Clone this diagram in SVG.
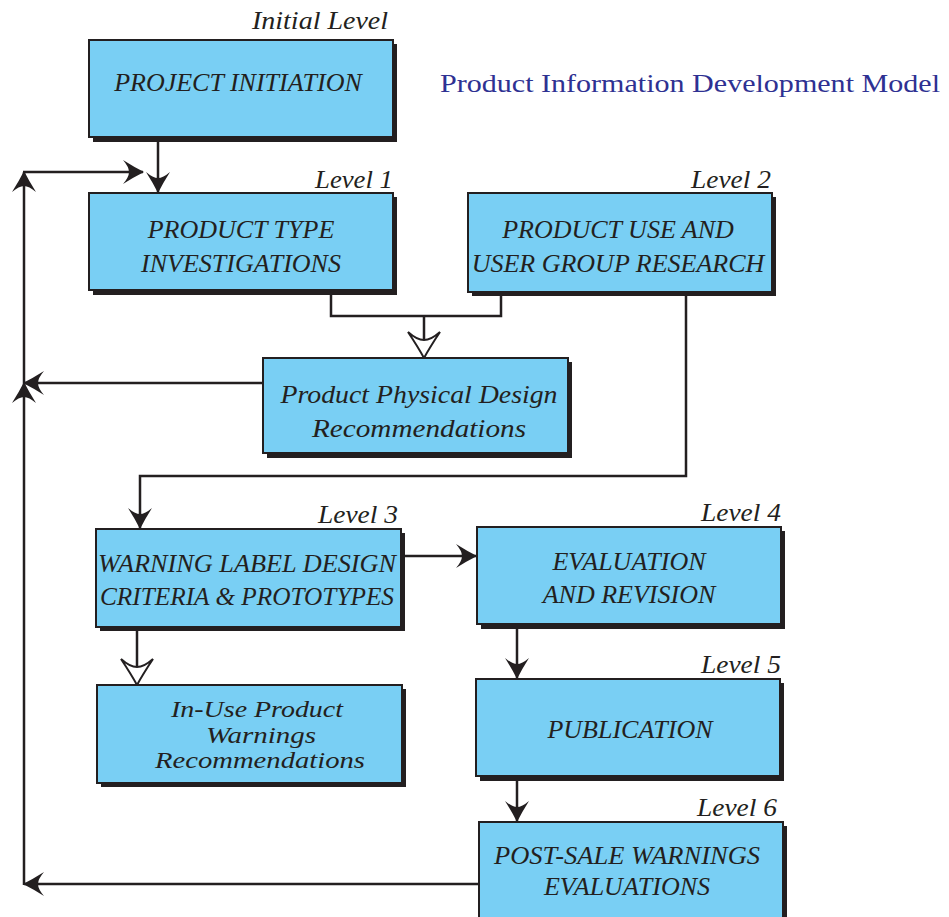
<svg xmlns="http://www.w3.org/2000/svg" width="949" height="917" viewBox="0 0 949 917">
<defs>
<style>
.sh{fill:#231f20}
.bx{fill:#79cff4;stroke:#231f20;stroke-width:2}
.t{font-family:"Liberation Serif","Times New Roman",serif;font-style:italic;font-size:26px;fill:#231f20;text-anchor:middle}
.s{font-size:24px}
.lv{font-family:"Liberation Serif","Times New Roman",serif;font-style:italic;font-size:26px;fill:#231f20;text-anchor:end}
.ttl{font-family:"Liberation Serif","Times New Roman",serif;font-size:26px;fill:#2e3192}
.c{fill:none;stroke:#231f20;stroke-width:2.5}
</style>
<marker id="af" markerUnits="userSpaceOnUse" viewBox="-22 -13 24 26" refX="0" refY="0" markerWidth="24" markerHeight="26" orient="auto" overflow="visible">
<path d="M1,0 Q-9,-5 -20,-12 Q-14,-5 -14,0 Q-14,5 -20,12 Q-9,5 1,0 Z" fill="#231f20"/>
</marker>
<marker id="ah" markerUnits="userSpaceOnUse" viewBox="-28 -18 30 36" refX="0" refY="0" markerWidth="30" markerHeight="36" orient="auto" overflow="visible">
<path d="M0,0 Q-11,-6 -26,-16 Q-18,-7 -18,0 Q-18,7 -26,16 Q-11,6 0,0 Z" fill="#fff" stroke="#231f20" stroke-width="2"/>
</marker>
</defs>
<rect width="949" height="917" fill="#fff"/>

<g id="connectors">
<line class="c" x1="158" y1="138" x2="158" y2="192" marker-end="url(#af)"/>
<polyline class="c" points="331,291 331,316 501,316 501,293"/>
<line class="c" x1="424" y1="316" x2="424" y2="358" marker-end="url(#ah)"/>
<polyline class="c" points="686,293 686,476 140,476 140,528" marker-end="url(#af)"/>
<line class="c" x1="402" y1="556" x2="476" y2="556" marker-end="url(#af)"/>
<line class="c" x1="137" y1="628" x2="137" y2="685" marker-end="url(#ah)"/>
<line class="c" x1="517" y1="625" x2="517" y2="678" marker-end="url(#af)"/>
<line class="c" x1="517" y1="777" x2="517" y2="821" marker-end="url(#af)"/>
<line class="c" x1="478" y1="884" x2="24" y2="884" marker-end="url(#af)"/>
<line class="c" x1="24" y1="885" x2="24" y2="383" marker-end="url(#af)"/>
<line class="c" x1="24" y1="383" x2="24" y2="172" marker-end="url(#af)"/>
<line class="c" x1="23" y1="172" x2="143" y2="172" marker-end="url(#af)"/>
<line class="c" x1="263" y1="383" x2="24" y2="383" marker-end="url(#af)"/>
</g>

<g id="title">
<text class="ttl" x="440" y="92" textLength="500" lengthAdjust="spacingAndGlyphs">Product Information Development Model</text>
</g>

<g id="n0">
<text class="lv" x="388" y="29" textLength="136" lengthAdjust="spacingAndGlyphs">Initial Level</text>
<rect class="sh" x="93" y="44" width="304" height="98"/>
<rect class="bx" x="89" y="40" width="304" height="97"/>
<text class="t" x="238" y="91">PROJECT INITIATION</text>
</g>

<g id="n1">
<text class="lv" x="393" y="188" textLength="78" lengthAdjust="spacingAndGlyphs">Level 1</text>
<rect class="sh" x="93" y="197" width="304" height="98"/>
<rect class="bx" x="89" y="193" width="304" height="97"/>
<text class="t" x="241" y="238">PRODUCT TYPE</text>
<text class="t" x="241" y="272">INVESTIGATIONS</text>
</g>

<g id="n2">
<text class="lv" x="771" y="188" textLength="80" lengthAdjust="spacingAndGlyphs">Level 2</text>
<rect class="sh" x="472" y="197" width="304" height="99"/>
<rect class="bx" x="468" y="193" width="304" height="99"/>
<text class="t" x="618" y="238">PRODUCT USE AND</text>
<text class="t" x="618" y="272">USER GROUP RESEARCH</text>
</g>

<g id="n3">
<rect class="sh" x="267" y="362" width="305" height="96"/>
<rect class="bx" x="263" y="358" width="305" height="95"/>
<text class="t" x="419" y="403" textLength="277" lengthAdjust="spacingAndGlyphs">Product Physical Design</text>
<text class="t" x="419" y="437" textLength="214" lengthAdjust="spacingAndGlyphs">Recommendations</text>
</g>

<g id="n4">
<text class="lv" x="398" y="523" textLength="80" lengthAdjust="spacingAndGlyphs">Level 3</text>
<rect class="sh" x="100" y="533" width="305" height="98"/>
<rect class="bx" x="96" y="529" width="305" height="98"/>
<text class="t" x="247" y="572" textLength="298" lengthAdjust="spacingAndGlyphs">WARNING LABEL DESIGN</text>
<text class="t" x="247" y="605" textLength="294" lengthAdjust="spacingAndGlyphs">CRITERIA &amp; PROTOTYPES</text>
</g>

<g id="n5">
<text class="lv" x="781" y="521" textLength="80" lengthAdjust="spacingAndGlyphs">Level 4</text>
<rect class="sh" x="481" y="531" width="304" height="98"/>
<rect class="bx" x="477" y="527" width="304" height="97"/>
<text class="t" x="629" y="570">EVALUATION</text>
<text class="t" x="629" y="603">AND REVISION</text>
</g>

<g id="n6">
<rect class="sh" x="101" y="689" width="305" height="98"/>
<rect class="bx" x="97" y="685" width="305" height="98"/>
<text class="t s" x="257" y="717" textLength="172" lengthAdjust="spacingAndGlyphs">In-Use Product</text>
<text class="t s" x="261" y="743" textLength="110" lengthAdjust="spacingAndGlyphs">Warnings</text>
<text class="t s" x="260" y="768" textLength="210" lengthAdjust="spacingAndGlyphs">Recommendations</text>
</g>

<g id="n7">
<text class="lv" x="781" y="673" textLength="80" lengthAdjust="spacingAndGlyphs">Level 5</text>
<rect class="sh" x="480" y="683" width="304" height="98"/>
<rect class="bx" x="476" y="679" width="304" height="97"/>
<text class="t" x="630" y="738">PUBLICATION</text>
</g>

<g id="n8">
<text class="lv" x="777" y="816" textLength="80" lengthAdjust="spacingAndGlyphs">Level 6</text>
<rect class="sh" x="483" y="826" width="304" height="100"/>
<rect class="bx" x="479" y="822" width="304" height="100"/>
<text class="t" x="627" y="864" textLength="266" lengthAdjust="spacingAndGlyphs">POST-SALE WARNINGS</text>
<text class="t" x="627" y="895">EVALUATIONS</text>
</g>
</svg>
